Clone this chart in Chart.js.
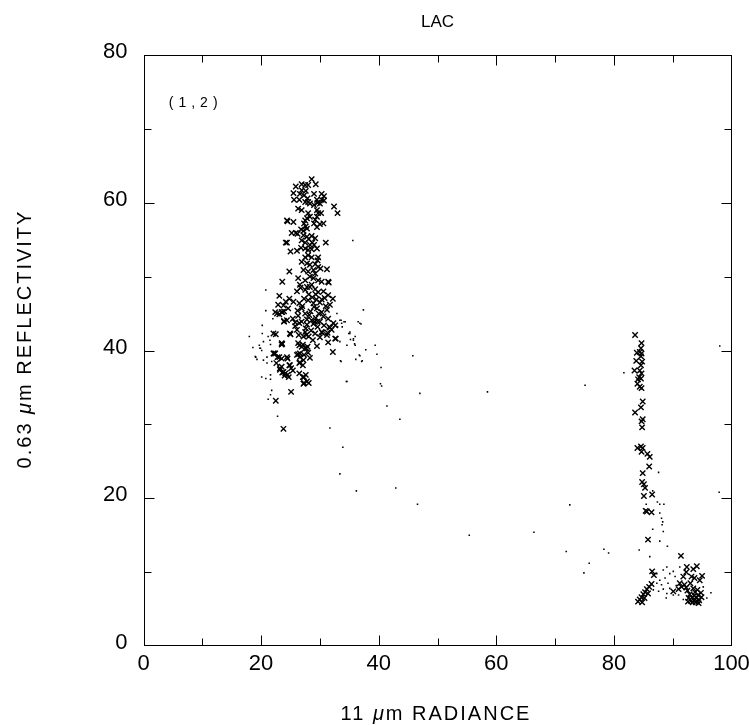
<!DOCTYPE html>
<html>
<head>
<meta charset="utf-8">
<script src="https://cdn.jsdelivr.net/npm/chart.js@4.4.1/dist/chart.umd.min.js"></script>
<style>
  html, body { margin: 0; padding: 0; background: #fff; }
</style>
</head>
<body>
<canvas id="myChart" width="749" height="725"></canvas>
<script>
const ctx = document.getElementById('myChart');

// axis ticks
const xTicks = [0, 20, 40, 60, 80, 100];
const yTicks = [0, 20, 40, 60, 80];
const xMinor = [10, 30, 50, 70, 90];
const yMinor = [10, 30, 50, 70];

// x marks, main cloud around 28 / 45
const mainCrosses = [
  [28.6,63.2],[28.0,62.4],[27.5,62.4],[26.9,62.5],[29.3,62.5],[25.9,62.2],[26.9,61.7],[27.6,61.6],[25.5,61.3],[26.6,61.2],
  [27.3,61.0],[29.0,61.2],[30.3,61.2],[30.7,60.9],[25.6,60.4],[26.5,60.4],[27.9,60.6],[27.5,60.1],[29.5,60.4],[30.3,60.4],
  [30.7,60.3],[30.0,59.9],[29.6,60.0],[28.3,59.9],[28.0,60.1],[29.0,59.7],[26.3,59.2],[26.9,59.0],[29.5,59.0],[29.7,58.6],
  [30.2,58.6],[32.4,59.5],[33.0,58.6],[28.0,58.6],[28.3,58.1],[27.8,57.9],[27.5,57.6],[29.5,58.1],[29.2,57.7],[24.4,57.6],
  [25.5,57.4],[27.3,57.2],[27.6,56.8],[29.0,57.2],[30.0,57.1],[30.6,57.2],[29.5,56.7],[26.8,56.4],[27.2,56.2],[27.8,56.5],
  [25.2,55.9],[25.9,55.9],[26.2,55.8],[27.2,55.6],[27.8,55.4],[28.1,55.1],[28.6,55.5],[29.2,55.2],[26.9,54.9],[27.5,54.6],
  [28.7,54.6],[28.3,54.3],[29.0,54.3],[24.4,54.6],[31.0,54.6],[26.8,53.9],[27.5,53.8],[28.0,53.6],[28.6,53.7],[29.5,53.8],
  [26.1,53.5],[28.0,52.9],[27.5,52.6],[28.6,52.6],[29.7,52.6],[29.6,52.2],[26.9,52.0],[27.8,51.8],[28.3,51.6],[29.2,51.7],
  [29.7,51.3],[30.1,51.1],[31.2,51.0],[24.8,50.7],[27.2,50.9],[28.0,50.7],[28.9,50.9],[29.2,50.4],[23.6,49.3],[26.3,49.8],
  [27.5,49.5],[28.3,50.0],[28.9,49.8],[29.7,49.5],[30.3,49.3],[31.4,49.3],[26.6,48.9],[27.8,48.6],[28.6,48.9],
  [23.1,47.4],[22.9,46.2],[23.8,46.1],[22.7,45.0],[23.5,45.2],[23.9,45.3],[24.8,47.0],[25.5,46.6],[24.6,45.7],[25.4,44.3],
  [24.4,44.1],[23.9,43.9],[26.1,48.0],[26.7,48.5],[27.5,48.2],[28.3,48.6],[29.2,48.3],[29.7,47.9],[30.6,48.0],[31.4,47.5],
  [32.2,47.0],[31.7,46.2],[31.2,45.5],[30.3,45.2],[29.5,45.7],[28.9,46.4],[28.0,46.8],[27.3,47.0],[26.5,46.4],[26.9,45.7],
  [27.5,45.0],[26.3,44.7],[25.8,43.8],[26.9,43.9],[27.8,43.5],[28.6,44.1],[29.3,44.4],[30.0,43.9],[30.7,43.4],[31.7,43.1],
  [31.4,44.3],[32.3,43.7],[31.5,49.2],[24.2,46.6],[22.4,45.2],[23.1,44.9],[23.6,45.2],[25.0,53.4],[24.2,54.6],[24.5,57.5],
  [28.1,47.6],[28.7,47.2],[29.4,46.9],[30.0,46.5],[29.0,45.9],[28.4,45.3],[29.8,45.0],[30.6,44.6],[27.8,44.2],[28.9,43.6],
  [29.6,43.2],[30.3,46.9],[27.0,46.0],[26.2,45.4],[28.2,44.8],[29.3,47.6],[30.8,47.1],[31.0,46.0],[27.6,43.0],[28.5,42.7],
  [29.2,42.3],[30.0,41.8],[28.8,41.4],[29.5,40.6],[28.1,41.9],
  [22.5,42.2],[25.0,42.2],[23.6,40.9],[22.2,39.6],[23.1,39.1],[24.5,38.9],[22.6,38.3],[23.2,37.6],[23.6,37.0],[24.0,36.6],
  [24.8,38.0],[25.1,37.6],[24.7,36.4],[24.1,36.9],[26.5,38.3],[26.1,39.4],[26.6,39.1],[27.7,40.3],[28.0,39.7],[28.3,39.0],
  [26.5,36.9],[27.1,36.4],[27.6,36.7],[27.3,35.6],[28.1,35.6],[25.1,34.4],[22.5,33.2],[23.8,29.4],[26.5,40.7],[26.4,42.1],
  [26.1,42.8],[27.5,42.5],[27.7,42.1],[30.4,42.4],[31.2,42.1],[31.4,41.1],[32.2,39.8],[32.7,41.6],[32.6,43.4],[31.6,43.2],
  [29.1,43.9],[29.6,43.9],[25.8,43.3],[26.5,43.7],[23.9,44.0],[27.1,40.8],[27.5,40.3],[27.9,40.5],[26.3,39.5],[26.6,38.4],
  [30.3,42.5],[32.6,41.6],[23.5,40.8],[22.1,39.6],[24.4,39.1],[27.2,41.9],[26.3,41.0],[26.9,40.5],[26.6,39.6],[27.3,39.4],
  [27.2,38.7],[27.1,38.0],[27.3,36.4],[27.8,35.8],[27.2,35.5],[23.5,37.8],[23.2,37.4],[23.8,37.1],[24.9,38.0],[25.4,37.3],
  [24.5,36.7],[22.4,39.6],[22.8,39.1],[23.5,38.9],[22.1,42.3],[23.5,41.0],[24.9,42.3],[32.0,42.8],[31.3,42.4]
];

// x marks, column near 85
const columnCrosses = [
  [83.6,42.1],[84.7,41.0],[84.6,40.3],[84.4,39.8],[84.7,39.6],[83.9,39.7],[84.6,39.2],[83.8,38.6],[84.8,38.5],[84.6,38.0],
  [83.5,37.3],[84.4,37.3],[84.7,36.9],[84.3,36.4],[84.6,36.2],[84.1,36.1],[84.0,35.5],[84.4,35.1],[84.7,34.9],[84.9,33.1],
  [84.6,32.3],[83.6,31.6],[84.9,30.7],[84.7,30.4],[84.8,29.6],[84.0,26.8],[84.6,27.0],[84.9,26.8],[84.7,26.3],[85.7,26.0],
  [86.1,25.6],[86.0,24.3],[84.9,23.4],[84.8,22.2],[85.1,21.9],[85.3,21.4],[85.1,20.3],[86.5,20.5],[85.4,18.3],[85.6,18.2],
  [86.4,18.1],[85.8,14.4]
];

// x marks, bottom right
const floorCrosses = [
  [86.5,10.1],[86.8,9.6],[84.1,6.0],[84.4,6.3],[84.7,6.6],[85.0,7.0],[85.3,7.3],[85.6,7.7],[86.0,8.0],[86.4,8.4],
  [85.2,6.5],[84.8,5.9],[85.8,7.1],[91.4,12.2],[92.4,10.7],[93.5,10.4],[94.1,10.8],[93.2,9.4],[93.7,9.2],[92.3,10.0],
  [91.8,9.4],[91.2,8.5],[91.5,8.0],[91.0,7.7],[90.1,7.4],[94.6,8.9],[95.0,9.5],[92.5,7.5],[92.9,7.0],[93.3,6.6],
  [93.6,6.2],[94.0,6.5],[94.3,6.9],[93.8,7.3],[93.1,6.1],[92.7,6.5],[94.5,6.2],[93.5,7.8],[94.8,7.2],[92.3,7.9],
  [93.9,5.9],[94.2,7.6],[92.0,8.3],[93.0,8.5],[94.4,5.8],[93.4,5.9],[94.9,6.6],[92.6,6.0],[93.7,6.8],[94.1,6.1]
];

// small dots
const dots = [
  [18.0,41.9],[18.6,40.4],[19.7,40.7],[19.8,40.3],[20.1,40.0],[19.0,39.2],[19.3,38.8],[20.4,41.2],[20.2,42.3],[20.2,43.4],
  [21.5,41.4],[21.0,38.3],[20.1,36.4],[20.8,36.2],[21.6,36.1],[21.6,36.7],[21.8,34.6],[21.6,34.0],[21.2,33.4],[22.8,31.1],
  [20.8,48.2],[20.8,45.4],[22.0,44.3],[21.2,41.9],[21.6,40.8],[22.4,39.8],[19.9,40.3],[19.1,39.1],[21.0,39.1],[20.4,38.7],
  [21.8,38.5],
  [31.7,29.5],[34.5,35.8],[33.5,38.6],[36.1,38.8],[37.1,38.5],[36.7,39.4],[37.8,40.1],[35.7,41.4],[36.0,41.9],[35.1,42.3],
  [36.8,43.7],[33.7,43.7],[33.8,43.2],[35.6,54.9],[37.4,45.5],[33.6,44.1],[34.1,43.9],[37.0,43.6],[34.9,42.3],[35.2,41.5],
  [35.9,40.9],[39.4,40.7],[39.7,39.5],[36.8,39.3],[37.2,38.6],[33.6,38.5],[40.4,37.7],[45.8,39.3],[40.3,35.5],[34.6,35.8],
  [47.0,34.2],[32.9,45.0],[33.4,44.1],[34.3,43.9],[33.0,43.2],[35.1,42.5],[35.7,41.6],[36.5,43.9],[36.0,40.7],[34.6,40.7],
  [33.4,41.2],
  [75.1,35.3],[58.5,34.4],[40.5,35.2],[41.4,32.5],[43.6,30.7],[33.9,26.9],[33.4,23.3],[36.2,21.0],[42.9,21.4],[46.6,19.2],
  [72.5,19.1],[55.4,15.0],[66.4,15.4],[71.9,12.8],[79.1,12.6],[75.8,11.2],[74.9,9.9],
  [81.7,37.0],[98.0,40.6],[97.9,20.8],[87.6,23.5],[87.4,19.5],[87.8,19.2],[88.5,19.2],[86.6,21.0],[85.5,19.2],[87.8,18.0],
  [88.1,17.3],[88.3,16.8],[88.2,16.4],[86.6,15.8],[88.4,15.5],[87.8,14.2],[89.1,13.5],[78.3,13.1],[84.3,13.0],[86.1,12.1],
  [87.3,9.8],[88.4,10.3],[89.0,10.7],[89.5,9.8],[90.1,10.1],[87.8,8.9],[88.7,9.2],[90.4,9.4],[87.3,8.5],[88.1,8.3],
  [89.2,8.5],[88.4,7.7],[89.5,7.8],[87.6,7.4],[89.0,7.1],[90.1,6.9],[86.7,7.6],[95.2,8.0],[91.2,10.7],[92.1,10.3],
  [91.0,6.9],[92.7,6.7],[96.5,7.2],[95.8,6.5],[90.6,8.2],[88.9,6.5],[91.8,6.3]
];

const toXY = arr => arr.map(p => ({x: p[0], y: p[1]}));
const FONT = '"Liberation Sans", Arial, Helvetica, sans-serif';

// frame, inward ticks and the texts
const decorations = {
  id: 'decorations',
  afterDraw(chart) {
    const c = chart.ctx;
    const a = chart.chartArea;
    const xs = chart.scales.x, ys = chart.scales.y;
    c.save();
    c.strokeStyle = '#000';
    c.lineWidth = 1;
    const L = Math.round(a.left) + 0.5, R = Math.round(a.right) - 0.5;
    const T = Math.round(a.top) + 0.5, B = Math.round(a.bottom) - 0.5;
    c.strokeRect(L, T, R - L, B - T);
    c.beginPath();
    const tickX = (v, len) => {
      const p = Math.round(xs.getPixelForValue(v)) + 0.5;
      c.moveTo(p, B); c.lineTo(p, B - len);
      c.moveTo(p, T); c.lineTo(p, T + len);
    };
    const tickY = (v, len) => {
      const p = Math.round(ys.getPixelForValue(v)) + 0.5;
      c.moveTo(L, p); c.lineTo(L + len, p);
      c.moveTo(R, p); c.lineTo(R - len, p);
    };
    xTicks.slice(1, -1).forEach(v => tickX(v, 10));
    xMinor.forEach(v => tickX(v, 7));
    yTicks.slice(1, -1).forEach(v => tickY(v, 10));
    yMinor.forEach(v => tickY(v, 7));
    c.stroke();

    c.fillStyle = '#000';
    // title
    c.font = '17px ' + FONT;
    c.textAlign = 'center';
    c.textBaseline = 'middle';
    c.fillText('LAC', (a.left + a.right) / 2, 22);

    // panel label
    c.font = '14px ' + FONT;
    c.letterSpacing = '5px';
    c.textAlign = 'left';
    c.fillText('(1,2)', xs.getPixelForValue(4.3), ys.getPixelForValue(73.5));
    c.letterSpacing = '0px';

    // axis titles with italic mu
    const drawParts = (parts, cx, cy, rot) => {
      c.save();
      c.translate(cx, cy);
      c.rotate(rot);
      let w = 0;
      parts.forEach(p => { c.font = p[1] + FONT; w += c.measureText(p[0]).width; });
      let x = -w / 2;
      c.textAlign = 'left';
      parts.forEach(p => { c.font = p[1] + FONT; c.fillText(p[0], x, 0); x += c.measureText(p[0]).width; });
      c.restore();
    };
    c.letterSpacing = '2px';
    drawParts([['11 ', '20px '], ['\u03bc', 'italic 20px '], ['m RADIANCE', '20px ']], 436, 714, 0);
    drawParts([['0.63 ', '20px '], ['\u03bc', 'italic 20px '], ['m REFLECTIVITY', '20px ']], 25, 339, -Math.PI / 2);
    c.restore();
  }
};

new Chart(ctx, {
  type: 'scatter',
  data: {
    datasets: [
      {
        label: 'cross',
        data: toXY(mainCrosses.concat(columnCrosses, floorCrosses)),
        pointStyle: 'crossRot',
        pointRadius: 3.8,
        pointHoverRadius: 3.8,
        borderColor: '#000',
        borderWidth: 1.4
      },
      {
        label: 'dot',
        data: toXY(dots),
        pointStyle: 'rect',
        pointRadius: 1.1,
        pointHoverRadius: 1.1,
        backgroundColor: '#000',
        borderWidth: 0
      }
    ]
  },
  options: {
    responsive: false,
    animation: false,
    layout: { padding: { left: 0, right: 17.5, top: 55, bottom: 0 } },
    plugins: { legend: { display: false }, tooltip: { enabled: false } },
    scales: {
      x: {
        type: 'linear',
        min: 0, max: 100,
        afterFit: s => { s.height = 79; },
        afterBuildTicks: s => { s.ticks = xTicks.map(v => ({value: v})); },
        grid: { display: false },
        border: { display: false },
        ticks: { color: '#000', padding: -3, maxRotation: 0, font: { family: FONT, size: 22 } }
      },
      y: {
        type: 'linear',
        min: 0, max: 80,
        afterFit: s => { s.width = 143.5; },
        afterBuildTicks: s => { s.ticks = yTicks.map(v => ({value: v})); },
        grid: { display: false },
        border: { display: false },
        ticks: { color: '#000', padding: 8, labelOffset: -3, font: { family: FONT, size: 22 } }
      }
    }
  },
  plugins: [decorations]
});
</script>
</body>
</html>
